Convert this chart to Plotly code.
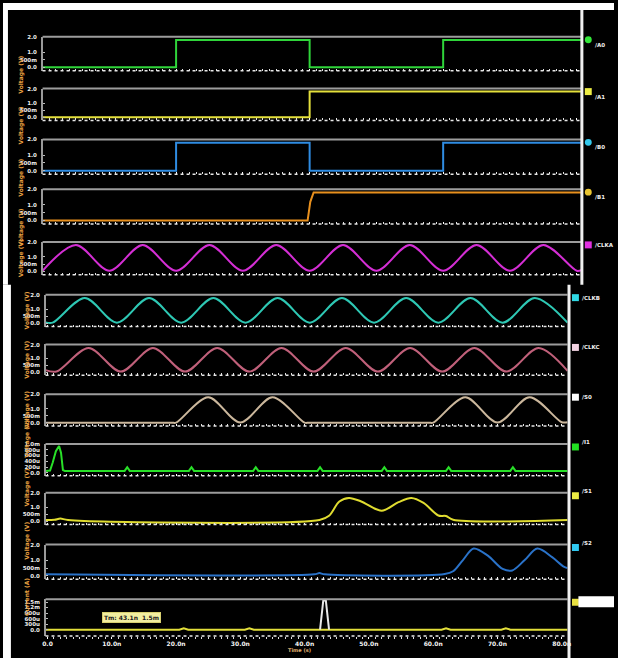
import plotly.graph_objects as go

W, H = 618, 658

# ---------------- data (time in ns) ----------------
a0_t = [0, 20, 40, 60, 80.7]
a0_v = [0.0, 1.8, 0.0, 1.8, 1.8]
a1_t = [0, 40, 80.7]
a1_v = [0.0, 1.8, 1.8]
b0_t = [0, 20, 40, 60, 80.7]
b0_v = [0.0, 1.8, 0.0, 1.8, 1.8]
b1_t = [0, 39.7, 40.1, 40.6, 80.7]
b1_v = [0.0, 0.0, 1.2, 1.8, 1.8]

clka_t = [0, 5, 10, 15, 20, 25, 30, 35, 40, 45, 50, 55, 60, 65, 70, 75, 80, 80.7]
clka_v = [0.05, 1.8, 0.05, 1.8, 0.05, 1.8, 0.05, 1.8, 0.05, 1.8, 0.05, 1.8, 0.05, 1.8, 0.05, 1.8, 0.05, 0.1]

clkb_t = [-0.3, 0.8, 5.8, 10.8, 15.8, 20.8, 25.8, 30.8, 35.8, 40.8, 45.8, 50.8, 55.8, 60.8, 65.8, 70.8, 75.8, 80.9]
clkb_v = [0.07, 0.05, 1.78, 0.05, 1.78, 0.05, 1.78, 0.05, 1.78, 0.05, 1.78, 0.05, 1.78, 0.05, 1.78, 0.05, 1.78, 0.05]

clkc_t = [-0.3, 1.4, 6.4, 11.4, 16.4, 21.4, 26.4, 31.4, 36.4, 41.4, 46.4, 51.4, 56.4, 61.4, 66.4, 71.4, 76.4, 80.9]
clkc_v = [0.15, 0.05, 1.75, 0.05, 1.75, 0.05, 1.75, 0.05, 1.75, 0.05, 1.75, 0.05, 1.75, 0.05, 1.75, 0.05, 1.75, 0.1]

s0_t = [-0.3, 19.3, 20, 25, 30, 35, 40, 40.7, 59.3, 60, 65, 70, 75, 80, 80.9]
s0_v = [0.02, 0.02, 0.02, 1.8, 0.03, 1.8, 0.02, 0.02, 0.02, 0.02, 1.8, 0.03, 1.8, 0.05, 0.05]

i1_t = [-0.3, 0.4, 0.8, 1.3, 1.8, 2.1, 2.4, 2.7,
        12.0, 12.4, 12.8, 22.0, 22.4, 22.8, 32.0, 32.4, 32.8, 42.0, 42.4, 42.8,
        52.0, 52.4, 52.8, 62.0, 62.4, 62.8, 72.0, 72.4, 72.8, 80.9]
i1_v = [0.07, 0.08, 0.35, 0.75, 0.93, 0.7, 0.1, 0.07,
        0.07, 0.2, 0.07, 0.07, 0.2, 0.07, 0.07, 0.2, 0.07, 0.07, 0.2, 0.07,
        0.07, 0.2, 0.07, 0.07, 0.2, 0.07, 0.07, 0.2, 0.07, 0.07]

s1_t = [-0.3, 1.1, 2.0, 3.2, 42.3, 43.8, 45.4, 46.9, 48.8, 52.0, 54.6, 56.6, 58.5, 60.8, 62.0, 63.1, 80.9]
s1_v = [0.1, 0.12, 0.2, 0.1, 0.1, 0.4, 1.4, 1.65, 1.4, 0.75, 1.35, 1.65, 1.3, 0.42, 0.38, 0.12, 0.1]

s2_t = [-0.3, 41.5, 42.3, 43.1, 61.8, 63.1, 64.6, 66.3, 68.5, 70.8, 72.3, 74.2, 76.2, 78.5, 80.3, 80.9]
s2_v = [0.1, 0.1, 0.18, 0.1, 0.12, 0.3, 1.0, 1.75, 1.3, 0.45, 0.35, 1.0, 1.75, 1.2, 0.6, 0.5]

vdd_t = [-0.3, 20.5, 21.2, 21.9, 30.7, 31.4, 32.1, 61.3, 62.0, 62.7, 70.6, 71.3, 72.0, 80.9]
vdd_v = [0.0, 0.0, 0.08, 0.0, 0.0, 0.08, 0.0, 0.0, 0.08, 0.0, 0.0, 0.08, 0.0, 0.0]
spike_t = [42.4, 42.9, 43.3, 43.8]
spike_v = [0.0, 1.58, 1.58, 0.0]

x_tickvals = [0, 10, 20, 30, 40, 50, 60, 70, 80]
x_ticktext = ["0.0", "10.0n", "20.0n", "30.0n", "40.0n", "50.0n", "60.0n", "70.0n", "80.0n"]

v_tickvals = [0, 0.5, 1.0, 2.0]
v_ticktext = ["0.0", "500m", "1.0", "2.0"]
i9_tickvals = [0, 0.2, 0.4, 0.6, 0.8, 1.0]
i9_ticktext = ["0.0", "200u", "400u", "600u", "800u", "1.0m"]
i12_tickvals = [0, 0.3, 0.6, 0.9, 1.2, 1.5]
i12_ticktext = ["0.0", "300u", "600u", "900u", "1.2m", "1.5m"]

names = ["/A0", "/A1", "/B0", "/B1", "/CLKA", "/CLKB", "/CLKC", "/S0", "/I1", "/S1", "/S2", ""]

# ---------------- panel layout config ----------------
VR = [-0.22, 2.01]
panels = [
    dict(series=[(a0_t, a0_v, '#2fd43a', 'hv')], sec='top', top=34, bot=68, yr=VR, tk='v', mk=('circle', '#33e63a')),
    dict(series=[(a1_t, a1_v, '#e4e03c', 'hv')], sec='top', top=86, bot=118, yr=VR, tk='v', mk=('rect', '#ecec44')),
    dict(series=[(b0_t, b0_v, '#2f8ce2', 'hv')], sec='top', top=137, bot=172, yr=VR, tk='v', mk=('circle', '#33c8ec')),
    dict(series=[(b1_t, b1_v, '#e8901e', 'linear')], sec='top', top=187, bot=222, yr=VR, tk='v', mk=('circle', '#e8c430')),
    dict(series=[(clka_t, clka_v, '#d42ed4', 'spline')], sec='top', top=240, bot=273, yr=VR, tk='v', mk=('rect', '#e030e0')),
    dict(series=[(clkb_t, clkb_v, '#2ec8b4', 'spline')], sec='low', top=293, bot=325, yr=VR, tk='v', mk=('rect', '#30d8e4')),
    dict(series=[(clkc_t, clkc_v, '#c0607a', 'spline')], sec='low', top=343, bot=374, yr=VR, tk='v', mk=('rect', '#f2d2e2')),
    dict(series=[(s0_t, s0_v, '#cbb79c', 'spline')], sec='low', top=393, bot=425, yr=VR, tk='v', mk=('rect', '#ffffff')),
    dict(series=[(i1_t, i1_v, '#28e028', 'linear')], sec='low', top=443, bot=475, yr=[-0.1, 1.0], tk='i9', mk=('rect', '#22e022')),
    dict(series=[(s1_t, s1_v, '#e0dc30', 'spline')], sec='low', top=492, bot=524, yr=VR, tk='v', mk=('rect', '#ecec44')),
    dict(series=[(s2_t, s2_v, '#2a72c8', 'spline')], sec='low', top=544, bot=579, yr=VR, tk='v', mk=('rect', '#30c8f0')),
    dict(series=[(vdd_t, vdd_v, '#e2de3a', 'linear'), (spike_t, spike_v, '#e8e8e8', 'linear')],
         sec='low', top=599, bot=636, yr=[-0.35, 1.65], tk='i12', mk=('rect', '#e8e040')),
]

fig = go.Figure()
layout = dict(width=W, height=H, margin=dict(l=0, r=0, t=0, b=0),
              paper_bgcolor='black', plot_bgcolor='black', showlegend=False)
shapes = []
annotations = []


def py(px):
    return 1 - px / H


def pxx(px):
    return px / W


n = len(panels)
for i, p in enumerate(panels, start=1):
    xa = 'xaxis' if i == 1 else f'xaxis{i}'
    ya = 'yaxis' if i == 1 else f'yaxis{i}'
    xs = 'x' if i == 1 else f'x{i}'
    ys = 'y' if i == 1 else f'y{i}'
    top = p['sec'] == 'top'
    if top:
        xdom = [pxx(40), pxx(585)]
        xr = [0, 80.7]
    else:
        xdom = [pxx(43), pxx(571)]
        xr = [-0.31, 80.9]
    last = (i == n)
    layout[xa] = dict(domain=xdom, range=xr, anchor=ys, showgrid=False, zeroline=False,
                      showline=False, ticks='outside' if last else 'inside',
                      ticklen=2, tickcolor='white', tickwidth=1,
                      tickvals=x_tickvals, ticktext=x_ticktext,
                      minor=dict(ticks='outside' if last else 'inside', dtick=1, tick0=0,
                                 ticklen=2, tickcolor='#e0e0e0', tickwidth=1),
                      showticklabels=last,
                      tickfont=dict(color='#f4f4f4', size=6, family='DejaVu Sans', weight='bold'))
    if p['tk'] == 'v':
        tv, tt = v_tickvals, v_ticktext
    elif p['tk'] == 'i9':
        tv, tt = i9_tickvals, i9_ticktext
    else:
        tv, tt = i12_tickvals, i12_ticktext
    layout[ya] = dict(domain=[py(p['bot']), py(p['top'])], range=p['yr'], anchor=xs,
                      showgrid=False, zeroline=False, showline=True, linecolor='#9a9a9a',
                      linewidth=1.5, ticks='inside', ticklen=2, tickcolor='#bbbbbb',
                      tickvals=tv, ticktext=tt, ticklabelstandoff=3,
                      tickfont=dict(color='#eeeeee', size=5.5, family='DejaVu Sans', weight='bold'))
    for (tt_, vv_, col, shp) in p['series']:
        fig.add_trace(go.Scatter(x=tt_, y=vv_, mode='lines', xaxis=xs, yaxis=ys,
                                 line=dict(color=col, width=2, shape=shp,
                                           smoothing=0.9 if shp == 'spline' else None),
                                 hoverinfo='skip'))
    shapes.append(dict(type='line', xref=f'{xs} domain', yref=f'{ys} domain', x0=0, x1=1, y0=1, y1=1,
                       line=dict(color='#9c9c9c', width=2)))
    shapes.append(dict(type='line', xref=f'{xs} domain', yref=f'{ys} domain', x0=0, x1=1, y0=0, y1=0,
                       line=dict(color='#e8e8e8', width=1.5, dash='dot')))
    annotations.append(dict(x=pxx(12 if top else 18), y=py((p['top'] + p['bot']) / 2),
                            xref='paper', yref='paper', showarrow=False, textangle=-90,
                            text='Current (A)' if p['tk'] == 'i12' else 'Voltage (V)',
                            font=dict(color='#e8a040', size=6, family='DejaVu Sans', weight='bold')))
    mx = 592 if top else 579
    my = p['top'] + 3
    kind, mcol = p['mk']
    shapes.append(dict(type='circle' if kind == 'circle' else 'rect', xref='paper', yref='paper',
                       x0=pxx(mx - 3.5), x1=pxx(mx + 3.5), y0=py(my + 3.5), y1=py(my - 3.5),
                       fillcolor=mcol, line=dict(width=0)))
    if names[i - 1]:
        annotations.append(dict(x=pxx(mx + 5), y=py(my), xref='paper', yref='paper',
                                xanchor='left', showarrow=False, text=names[i - 1],
                                font=dict(color='#f0f0f0', size=5.5, family='DejaVu Sans', weight='bold')))

SEAM = 283
shapes += [
    dict(type='rect', xref='paper', yref='paper', x0=0, x1=1, y0=py(7), y1=1,
         fillcolor='white', line=dict(width=0)),
    dict(type='rect', xref='paper', yref='paper', x0=0, x1=pxx(5), y0=py(SEAM), y1=1,
         fillcolor='white', line=dict(width=0)),
    dict(type='rect', xref='paper', yref='paper', x0=0, x1=pxx(8), y0=0, y1=py(SEAM),
         fillcolor='white', line=dict(width=0)),
    dict(type='line', xref='paper', yref='paper', x0=pxx(585.5), x1=pxx(585.5), y0=py(SEAM), y1=py(7),
         line=dict(color='#f0f0f0', width=3)),
    dict(type='line', xref='paper', yref='paper', x0=pxx(572.5), x1=pxx(572.5), y0=0, y1=py(SEAM),
         line=dict(color='#f0f0f0', width=3)),
    dict(type='rect', xref='paper', yref='paper', x0=pxx(582), x1=1, y0=py(607), y1=py(596),
         fillcolor='white', line=dict(width=0)),
]

annotations.append(dict(x=pxx(100), y=py(622.5), xref='paper', yref='paper', showarrow=False,
                        text='Tm: 43.1n  1.5m', bgcolor='#f2eea0', bordercolor='#d8d070', borderwidth=1,
                        borderpad=1, font=dict(color='#202020', size=6, family='DejaVu Sans', weight='bold')))
annotations.append(dict(x=pxx(300), y=py(654), xref='paper', yref='paper', showarrow=False,
                        borderpad=0,
                        text='Time (s)', font=dict(color='#e0b070', size=5, family='DejaVu Sans', weight='bold')))

layout['shapes'] = shapes
layout['annotations'] = annotations
fig.update_layout(**layout)
fig.write_html("out.html", config={'displayModeBar': False, 'staticPlot': True},
               post_script="document.body.style.margin='0';document.body.style.overflow='hidden';")
